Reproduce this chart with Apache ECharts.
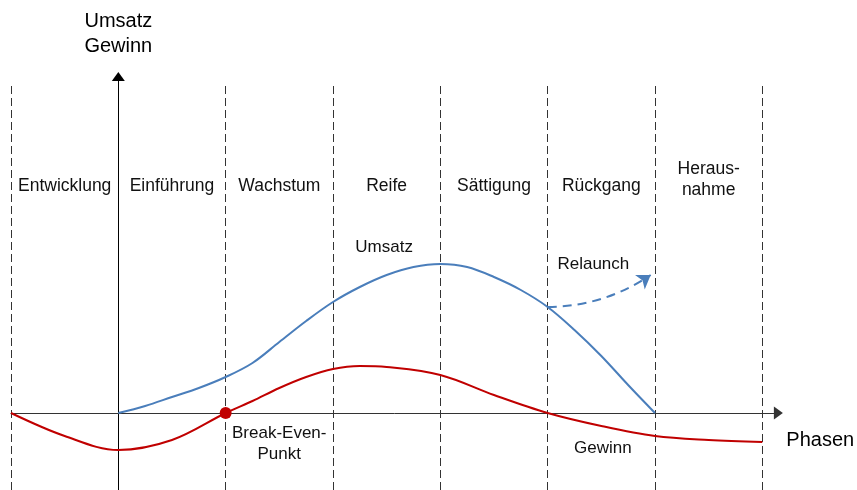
<!DOCTYPE html>
<html><head><meta charset="utf-8">
<script src="https://cdn.jsdelivr.net/npm/echarts@6/dist/echarts.min.js"></script>
<style>html,body{margin:0;padding:0;background:#fff}#c{width:857px;height:490px}</style>
</head><body><div id="c"></div>
<script>
// Phases (x axis: 0 = start of "Einführung", one unit per phase)
const phaseNames = ['Entwicklung','Einführung','Wachstum','Reife','Sättigung','Rückgang','Heraus-\nnahme'];
const phaseCenters = [-0.5, 0.5, 1.5, 2.5, 3.5, 4.5, 5.5];
const phaseBounds = [-1, 1, 2, 3, 4, 5, 6];
// Umsatz (sales)
const umsatzX = [0, 0.25, 0.5, 0.75, 1, 1.25, 1.5, 1.75, 2, 2.25, 2.5, 2.75, 3, 3.25, 3.5, 3.75, 4, 4.25, 4.5, 4.75, 5];
const umsatzY = [0, 7, 16, 25, 36, 50, 71, 92, 111, 126, 138, 146, 149, 146, 136, 123, 106, 83, 57, 28, 0];
// Gewinn (profit)
const gewinnX = [-1, -0.5, 0, 0.5, 1, 1.25, 1.5, 1.75, 2, 2.25, 2.5, 3, 3.5, 4, 4.5, 5, 5.5, 6];
const gewinnY = [0, -23, -37, -27, 0, 12, 25, 36, 44, 47, 46, 38, 18, 0, -13, -23, -27, -29];
// Break-even point and relaunch arrow
const breakEven = [1, 0];
const relaunchStart = [4, 106];
const relaunchEnd = [4.96, 138];
// Annotation texts
const annoTexts = ['Umsatz', 'Relaunch', 'Gewinn', 'Break-Even-\nPunkt'];
const annoX = [2.476, 4.426, 4.515, 1.499];
const annoY = [166, 149, -35, -30.5];
const axisNameX = 'Phasen';
const axisNameY = 'Umsatz\nGewinn';

const FONT = "'Liberation Sans', Arial, sans-serif";
const BLUE = '#4A7EBB', RED = '#C00000';

const chart = echarts.init(document.getElementById('c'), null, {renderer: 'canvas'});
chart.setOption({
  animation: false,
  backgroundColor: '#fff',
  grid: {left: 11, right: 78.6, top: 76.5, bottom: 0},
  xAxis: {
    type: 'value', min: -1, max: 6.15,
    axisLine: {onZero: true, lineStyle: {color: '#333', width: 1}, symbol: ['none', 'triangle'], symbolSize: [13, 9]},
    axisTick: {show: false}, axisLabel: {show: false}, splitLine: {show: false}
  },
  yAxis: {
    type: 'value', min: -77, max: 336.5,
    axisLine: {onZero: true, lineStyle: {color: '#000', width: 1}, symbol: ['none', 'triangle'], symbolSize: [13, 9]},
    axisTick: {show: false}, axisLabel: {show: false}, splitLine: {show: false},
    name: axisNameY, nameLocation: 'end', nameGap: 18,
    nameTextStyle: {fontFamily: FONT, fontSize: 20, color: '#000', lineHeight: 25, align: 'center'}
  },
  series: [
    {
      type: 'line', name: 'Umsatz', smooth: 0.35, showSymbol: false, z: 5,
      lineStyle: {color: BLUE, width: 2}, itemStyle: {color: BLUE},
      data: umsatzX.map((x, i) => [x, umsatzY[i]]),
      markLine: {
        silent: true, symbol: ['none', 'none'], label: {show: false},
        lineStyle: {color: '#333', width: 1, type: [8, 4]},
        data: phaseBounds.map(x => [{coord: [x, -77]}, {coord: [x, 330]}])
      }
    },
    {
      type: 'line', name: 'Gewinn', smooth: 0.35, showSymbol: false, z: 5,
      lineStyle: {color: RED, width: 2}, itemStyle: {color: RED},
      data: gewinnX.map((x, i) => [x, gewinnY[i]])
    },
    {
      type: 'scatter', symbolSize: 12, z: 6,
      itemStyle: {color: RED, opacity: 1}, data: [breakEven]
    },
    {
      type: 'lines', coordinateSystem: 'cartesian2d', z: 5,
      symbol: ['none', 'arrow'], symbolSize: 13,
      lineStyle: {color: BLUE, width: 2, type: [9, 6], curveness: -0.15, opacity: 1},
      data: [{coords: [relaunchStart, relaunchEnd]}]
    },
    {
      type: 'scatter', symbolSize: 0, silent: true, clip: false,
      itemStyle: {opacity: 1},
      label: {show: true, position: 'inside', formatter: '{b}', fontFamily: FONT, fontSize: 17.5, lineHeight: 21, color: '#111', opacity: 1},
      data: phaseNames.map((n, i) => ({name: n, value: [phaseCenters[i], 227],
        label: i === phaseNames.length - 1 ? {offset: [0, -6]} : undefined}))
    },
    {
      type: 'scatter', symbolSize: 0, silent: true, clip: false,
      itemStyle: {opacity: 1},
      label: {show: true, position: 'inside', formatter: '{b}', fontFamily: FONT, fontSize: 17, lineHeight: 21, color: '#111', opacity: 1},
      data: annoTexts.map((n, i) => ({name: n, value: [annoX[i], annoY[i]]}))
        .concat([{name: axisNameX, value: [6.54, -27], label: {fontSize: 20, color: '#000'}}])
    }
  ]
});
</script></body></html>
